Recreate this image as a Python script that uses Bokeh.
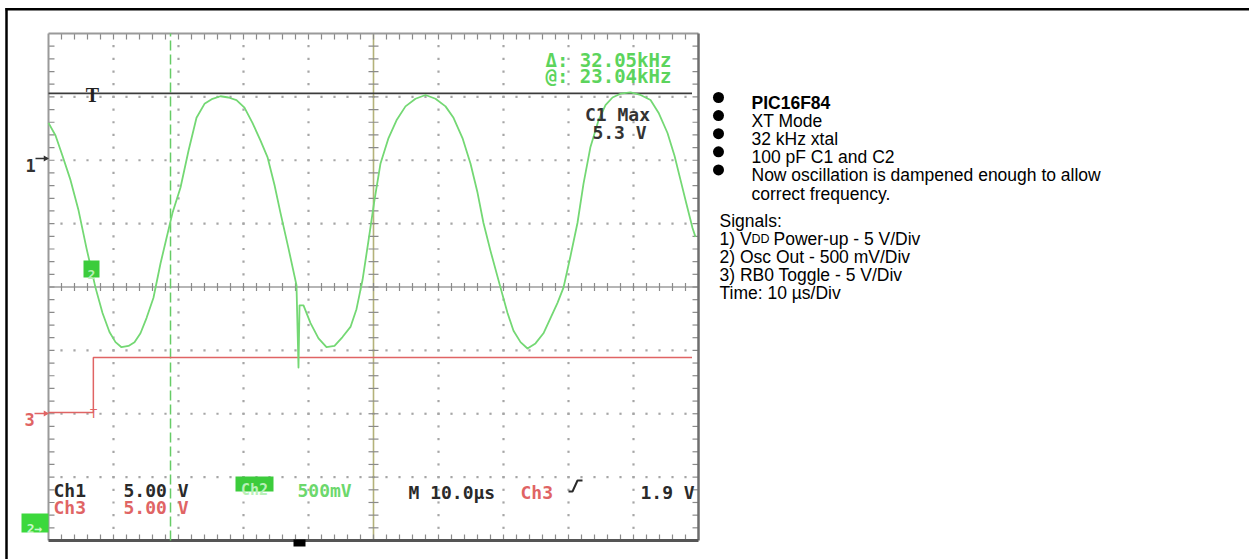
import numpy as np
from bokeh.plotting import figure
from bokeh.models import Range1d
from bokeh.core.properties import value
from bokeh.embed import file_html
from bokeh.resources import INLINE

# ---------------- data ----------------
# time in microseconds (10 us/div), voltages in volts
ch2_t = [0.0, 1.08, 2.15, 3.38, 4.62, 5.85, 7.23, 8.31, 9.38, 10.31,
         11.23, 12.31, 13.23, 14.15, 15.08, 16.15, 17.23, 18.15, 19.08, 20.31,
         21.54, 22.77, 24.0, 25.23, 26.46, 27.69, 28.92, 30.15, 31.38, 32.62,
         33.69, 34.77, 35.69, 36.92, 38.15, 38.46, 38.62, 39.23, 40.31, 41.54,
         42.77, 44.0, 45.23, 46.46, 47.38, 48.31, 49.23, 50.15, 51.08, 52.31,
         53.54, 54.92, 56.46, 58.0, 59.54, 61.08, 62.31, 63.69, 64.92, 66.0,
         66.92, 68.0, 69.54, 70.62, 71.54, 72.62, 73.69, 74.92, 76.15, 77.23,
         78.31, 79.23, 80.31, 81.38, 82.31, 83.38, 84.62, 85.69, 86.77, 88.0,
         89.54, 91.08, 92.62, 93.85, 95.23, 96.31, 97.23, 98.15, 99.08, 99.54]
ch2_v = [1.15, 1.05, 0.89, 0.70, 0.46, 0.16, -0.15, -0.35, -0.50, -0.58,
         -0.62, -0.61, -0.58, -0.51, -0.39, -0.23, 0.04, 0.24, 0.44, 0.64,
         0.93, 1.19, 1.30, 1.34, 1.36, 1.35, 1.33, 1.27, 1.15, 1.01,
         0.88, 0.66, 0.44, 0.16, -0.13, -0.78, -0.29, -0.29, -0.43, -0.55,
         -0.62, -0.61, -0.54, -0.46, -0.32, -0.09, 0.22, 0.54, 0.83, 1.03,
         1.17, 1.28, 1.34, 1.37, 1.34, 1.28, 1.19, 1.03, 0.83, 0.60,
         0.36, 0.14, -0.15, -0.35, -0.49, -0.58, -0.63, -0.59, -0.51, -0.39,
         -0.27, -0.15, 0.10, 0.36, 0.67, 0.96, 1.17, 1.29, 1.35, 1.38,
         1.39, 1.37, 1.33, 1.23, 1.07, 0.89, 0.70, 0.51, 0.32, 0.25]

ch1_t = [0.0, 99.0]
ch1_v = [5.27, 5.27]

ch3_t = [0.0, 6.9, 6.9, 99.0]
ch3_v = [0.10, 0.10, 4.44, 4.44]

cursor_t = [18.77, 50.0]

# channel settings: volts/div and reference position (div)
ch1_scale, ch1_ref = 5.0, 2.0
ch2_scale, ch2_ref = 0.5, 0.29
ch3_scale, ch3_ref = 5.0, -2.0

readout_top = ["\u0394: 32.05kHz", "@: 23.04kHz"]
meas_lines = ["C1 Max", "5.3 V"]
bullet_items = ["PIC16F84", "XT Mode", "32 kHz xtal", "100 pF C1 and C2",
                "Now oscillation is dampened enough to allow"]
bullet_cont = "correct frequency."
signals_title = "Signals:"
signal_lines = ["2) Osc Out - 500 mV/Div", "3) RB0 Toggle - 5 V/Div",
                "Time: 10 \u00b5s/Div"]

# ---------------- layout ----------------
W, H = 1249, 559
X0, X1 = 48.0, 698.0        # scope screen in pixels
Y0, Y1 = 33.0, 540.0
PXX = (X1 - X0) / 10.0      # px per horizontal division
PXY = (Y1 - Y0) / 8.0       # px per vertical division
YC = (Y0 + Y1) / 2.0
US_DIV = 10.0


def xd(px):
    return (px - X0) / PXX * US_DIV


def yd(py):
    return (YC - py) / PXY


def dx(px):
    return px / PXX * US_DIV


def dy(px):
    return px / PXY


p = figure(width=W, height=H, x_range=Range1d(xd(0), xd(W)),
           y_range=Range1d(yd(H), yd(0)), output_backend="svg",
           toolbar_location=None, min_border=0, x_axis_location=None,
           y_axis_location=None, outline_line_color=None,
           background_fill_color="white", border_fill_color="white")
p.grid.visible = False
p.title.visible = False

# outer black frame (top and left)
p.line([xd(5), xd(W)], [yd(8.7), yd(8.7)], line_color="black", line_width=2.5)
p.line([xd(6), xd(6)], [yd(7.5), yd(H)], line_color="black", line_width=2.5)

# ---------------- graticule ----------------
GRID = "#a6a6a6"
minor_x = np.arange(2, 100, 2.0)
minor_y = np.round(np.arange(-3.8, 3.81, 0.2), 3)
dots_x, dots_y = [], []
for k in range(1, 10):
    if k == 5:
        continue
    for yy in minor_y:
        dots_x.append(k * US_DIV)
        dots_y.append(yy)
for j in range(-3, 4):
    if j == 0:
        continue
    for xx in minor_x:
        dots_x.append(xx)
        dots_y.append(j)
p.scatter(dots_x, dots_y, marker="square", size=2.2, line_color=None,
          fill_color=GRID)

# centre lines with ticks
p.line([0, 100], [0, 0], line_color="#9c9c9c", line_width=1.3)
p.line([50, 50], [-4, 4], line_color="#b4b27a", line_width=1.6)
p.segment(x0=minor_x, y0=-dy(4), x1=minor_x, y1=dy(4), line_color="#8a8a8a",
          line_width=1.2)
p.segment(x0=50 - dx(5), y0=minor_y, x1=50 + dx(5), y1=minor_y,
          line_color="#8a8a8a", line_width=1.2)

# edge ticks
p.segment(x0=minor_x, y0=4, x1=minor_x, y1=4 - dy(6), line_color="#8a8a8a", line_width=1.2)
p.segment(x0=minor_x, y0=-4, x1=minor_x, y1=-4 + dy(6), line_color="#8a8a8a", line_width=1.2)
p.segment(x0=0, y0=minor_y, x1=dx(6), y1=minor_y, line_color="#8a8a8a", line_width=1.2)
p.segment(x0=100, y0=minor_y, x1=100 - dx(6), y1=minor_y, line_color="#8a8a8a", line_width=1.2)

# screen border
p.line([0, 0], [-4, 4], line_color="#9a9a9a", line_width=2)
p.line([0, 100], [4, 4], line_color="#9a9a9a", line_width=2)
p.line([100, 100], [-4, 4], line_color="#6e6e6e", line_width=2.5)
p.line([0, 100], [-4, -4], line_color="#555555", line_width=3)

# trigger position marker on bottom edge
p.quad(left=xd(293), right=xd(305), bottom=yd(546), top=yd(539),
       fill_color="black", line_color=None)

# cursors
p.line([cursor_t[0]] * 2, [-4, 4], line_color="#66cc66", line_width=1.5,
       line_dash="10 4")

# ---------------- traces ----------------
ch1_y = np.array(ch1_v) / ch1_scale + ch1_ref
ch2_y = np.array(ch2_v) / ch2_scale + ch2_ref
ch3_y = np.array(ch3_v) / ch3_scale + ch3_ref

p.line(ch1_t, ch1_y, line_color="#3c3c3c", line_width=1.8)
p.line(ch3_t, ch3_y, line_color="#e06464", line_width=1.5)
p.line(ch2_t, ch2_y, line_color="#74d874", line_width=1.8, line_join="round")

MONO = value("DejaVu Sans Mono")
SANS = value("Liberation Sans")


def txt(px, py, s, color, size, font=MONO, style="normal", align="left"):
    p.text(x=[xd(px)], y=[yd(py)], text=[s], text_color=color, text_font=font,
           text_font_size=value(f"{size}px"), text_font_style=style,
           text_align=align, text_baseline="alphabetic")


# trigger "T" markers
txt(92, 94, "T", "#222222", 20, font=value("Liberation Serif"), style="bold", align="center")
txt(93, 413, "T", "#e06464", 12, align="center")

# channel reference markers on the left
txt(30, 165, "1", "#333333", 17, style="bold", align="center")
p.segment(x0=[xd(35)], y0=[yd(158)], x1=[xd(47)], y1=[yd(158)], line_color="#333333", line_width=1.5)
p.scatter([xd(45)], [yd(158)], marker="triangle", angle=-np.pi / 2, size=6, fill_color="#333333", line_color=None)
txt(29, 419, "3", "#e06464", 17, style="bold", align="center")
p.segment(x0=[xd(34)], y0=[yd(413)], x1=[xd(47)], y1=[yd(413)], line_color="#e06464", line_width=1.5)
p.scatter([xd(45)], [yd(413)], marker="triangle", angle=-np.pi / 2, size=6, fill_color="#e06464", line_color=None)

# green channel-2 markers
p.quad(left=xd(83), right=xd(99), bottom=yd(277), top=yd(260), fill_color="#3ccc3c", line_color=None)
txt(91, 274, "2", "#b8f0b8", 13, style="bold", align="center")
p.quad(left=xd(21), right=xd(48), bottom=yd(532), top=yd(513), fill_color="#3cd83c", line_color=None)
txt(34, 528, "2\u2192", "#c8f8c8", 13, style="bold", align="center")

# top right readouts
txt(545, 59, readout_top[0], "#5cd45c", 19, style="bold")
txt(545, 75, readout_top[1], "#5cd45c", 19, style="bold")
txt(617, 114, meas_lines[0], "#333333", 18, style="bold", align="center")
txt(619, 132, meas_lines[1], "#333333", 18, style="bold", align="center")

# bottom readout
txt(53, 490, "Ch1", "#2a2a2a", 18, style="bold")
txt(123, 490, "5.00 V", "#2a2a2a", 18, style="bold")
txt(53, 507, "Ch3", "#e06464", 18, style="bold")
txt(123, 507, "5.00 V", "#e06464", 18, style="bold")
p.quad(left=xd(235), right=xd(273), bottom=yd(491), top=yd(476), fill_color="#3ccc3c", line_color=None)
txt(254, 489, "Ch2", "#b8f0b8", 15, style="bold", align="center")
txt(297, 490, "500mV", "#6cd86c", 18, style="bold")
txt(408, 492, "M 10.0\u00b5s", "#2a2a2a", 18, style="bold")
txt(520, 492, "Ch3", "#e06464", 18, style="bold")
p.line([xd(568), xd(572), xd(577), xd(582)], [yd(491), yd(491), yd(480), yd(480)],
       line_color="#2a2a2a", line_width=2)
txt(640, 492, "1.9 V", "#2a2a2a", 18, style="bold")

# ---------------- right-hand notes ----------------
FS = 17.5
LH = 18.1
b0 = 102.5
base = [b0 + i * LH for i in range(5)]
for i, (b, s) in enumerate(zip(base, bullet_items)):
    p.scatter([xd(718)], [yd(b - 5.5)], marker="circle", size=11,
              fill_color="black", line_color=None)
    txt(751, b, s, "black", FS, font=SANS, style="bold" if i == 0 else "normal")
txt(751, b0 + 5 * LH, bullet_cont, "black", FS, font=SANS)
sb = b0 + 6.5 * LH
txt(719, sb, signals_title, "black", FS, font=SANS)
txt(719, sb + LH, "1) V", "black", FS, font=SANS)
txt(751, sb + LH, "DD", "black", 12.5, font=SANS)
txt(773, sb + LH, "Power-up - 5 V/Div", "black", FS, font=SANS)
for i, s in enumerate(signal_lines):
    txt(719, sb + (i + 2) * LH, s, "black", FS, font=SANS)

open("out.html", "w").write(file_html(p, INLINE))
